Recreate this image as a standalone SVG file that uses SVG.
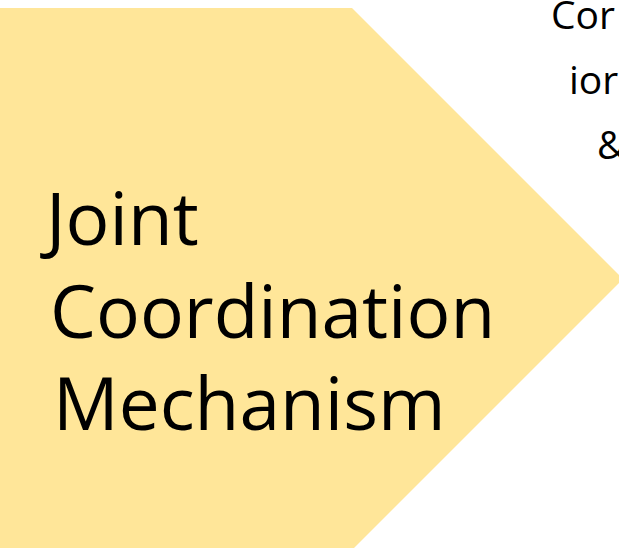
<svg xmlns="http://www.w3.org/2000/svg" width="619" height="548" viewBox="0 0 619 548">
  <style>
    .shape { fill: #FFE699; stroke: none; }
    .big { font-family: "Open Sans", "Liberation Sans", sans-serif; font-size: 73px; fill: #000; }
    .side { font-family: "Open Sans", "Liberation Sans", sans-serif; font-size: 39px; fill: #000; }
  </style>
  <rect width="619" height="548" fill="#FFFFFF"/>
  <g id="node-joint-coordination">
    <polygon class="shape" points="0,8 352,8 623,279 352,550 0,550"/>
    <text class="big" x="46" y="245">Joint</text>
    <text class="big" x="50" y="338">Coordination</text>
    <text class="big" x="53" y="430">Mechanism</text>
  </g>
  <g id="node-right-label">
    <text class="side" x="551" y="29">Cor</text>
    <text class="side" x="569" y="94">ior</text>
    <text class="side" x="597" y="159">&amp;</text>
  </g>
  <g id="connectors"/>
</svg>
